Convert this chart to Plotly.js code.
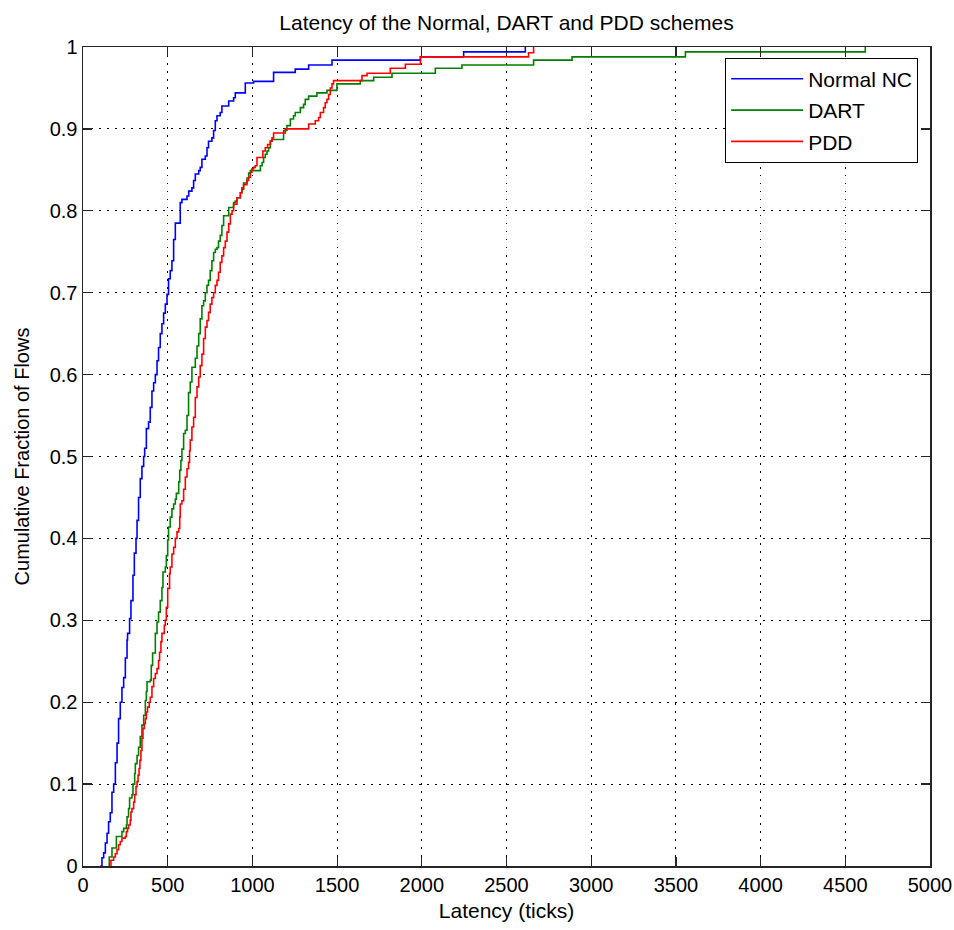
<!DOCTYPE html>
<html>
<head>
<meta charset="utf-8">
<script src="https://cdn.plot.ly/plotly-3.0.1.min.js"></script>
<style>html,body{margin:0;padding:0;background:#fff;}#chart{width:954px;height:930px;}</style>
</head>
<body>
<div id="chart"></div>
<script>
// Normal NC (blue) step CDF: latency (ticks) where each step occurs, fraction after step
const normalX = [102,112,122,132,142,151,161,171,181,191,201,210,220,230,240,250,260,263,275,283,295,303,313,319,328,338,348,358,364,374,387,397,407,417,427,437,446,456,466,476,486,496,505,515,525,535,545,574,584,614,624,643,653,663,683,692,702,722,732,741,761,771,781,791,810,820,860,889,899,958,1007,1125,1253,1332,1470,1992,2247,2611];
const normalY = [0,0.01,0.016,0.028,0.04,0.054,0.065,0.09,0.10,0.126,0.15,0.18,0.20,0.218,0.23,0.254,0.276,0.284,0.302,0.324,0.355,0.382,0.40,0.422,0.45,0.473,0.488,0.50,0.51,0.534,0.542,0.56,0.58,0.59,0.60,0.617,0.633,0.65,0.662,0.675,0.686,0.698,0.717,0.727,0.739,0.765,0.785,0.81,0.814,0.818,0.824,0.828,0.837,0.845,0.849,0.853,0.863,0.867,0.877,0.885,0.889,0.898,0.91,0.916,0.92,0.928,0.934,0.938,0.944,0.956,0.958,0.969,0.973,0.978,0.984,0.988,0.994,1.0];

// DART (green)
const dartX = [155,155,171,197,230,240,256,260,269,275,289,295,305,309,319,328,338,348,358,368,374,378,397,403,411,427,437,446,456,466,472,486,492,500,505,515,525,535,545,551,565,571,578,584,594,604,614,623,633,643,663,673,683,692,702,712,722,732,741,751,761,771,781,791,800,810,820,830,860,889,899,909,929,938,948,968,978,988,1047,1057,1066,1076,1086,1096,1106,1116,1184,1204,1224,1243,1253,1283,1302,1312,1332,1381,1440,1499,1637,1716,1824,2080,2237,2660,2887,3556,4618];
const dartY = [0,0.011,0.022,0.036,0.042,0.046,0.05,0.06,0.07,0.083,0.087,0.10,0.113,0.125,0.135,0.145,0.158,0.172,0.184,0.202,0.213,0.225,0.227,0.245,0.26,0.284,0.298,0.31,0.324,0.34,0.359,0.365,0.379,0.398,0.414,0.426,0.436,0.442,0.448,0.455,0.469,0.483,0.495,0.509,0.528,0.532,0.55,0.578,0.591,0.609,0.62,0.635,0.65,0.668,0.684,0.69,0.70,0.709,0.715,0.727,0.739,0.749,0.753,0.755,0.763,0.77,0.782,0.794,0.804,0.81,0.812,0.816,0.822,0.826,0.834,0.84,0.846,0.849,0.855,0.859,0.865,0.869,0.873,0.877,0.885,0.887,0.898,0.904,0.912,0.916,0.92,0.926,0.93,0.936,0.94,0.944,0.947,0.955,0.959,0.963,0.968,0.974,0.978,0.984,0.988,0.994,1.0];

// PDD (red)
const pddX = [161,165,181,191,201,210,220,230,250,256,263,269,279,283,289,299,305,313,319,325,331,336,342,348,354,362,368,374,381,391,397,407,417,427,437,446,452,460,466,480,486,492,500,511,515,525,535,545,555,565,571,574,584,594,604,614,623,629,633,643,653,663,673,683,692,702,712,722,732,741,751,761,771,781,791,800,810,820,830,840,850,860,870,880,889,909,929,938,948,968,978,988,997,1007,1017,1027,1062,1076,1090,1106,1116,1125,1194,1332,1371,1391,1401,1420,1430,1440,1450,1460,1470,1479,1647,1677,1814,1903,1992,2630,2660];
const pddY = [0,0.007,0.011,0.015,0.02,0.026,0.03,0.034,0.036,0.042,0.046,0.05,0.056,0.066,0.07,0.078,0.087,0.097,0.103,0.111,0.119,0.129,0.141,0.156,0.168,0.174,0.18,0.188,0.194,0.20,0.206,0.219,0.229,0.235,0.241,0.251,0.261,0.274,0.284,0.294,0.30,0.316,0.339,0.357,0.365,0.381,0.389,0.40,0.408,0.412,0.426,0.442,0.446,0.46,0.475,0.485,0.493,0.507,0.52,0.536,0.548,0.572,0.585,0.597,0.611,0.625,0.644,0.658,0.666,0.676,0.686,0.694,0.70,0.709,0.715,0.725,0.737,0.745,0.755,0.763,0.774,0.784,0.796,0.80,0.808,0.816,0.822,0.828,0.832,0.837,0.841,0.847,0.851,0.853,0.855,0.865,0.873,0.877,0.881,0.885,0.889,0.895,0.90,0.906,0.91,0.914,0.92,0.926,0.932,0.936,0.942,0.95,0.955,0.959,0.965,0.968,0.974,0.979,0.988,0.993,1.0];

const seriesNames = ['Normal NC', 'DART', 'PDD'];
const xTickVals = [0,500,1000,1500,2000,2500,3000,3500,4000,4500,5000];
const yTickVals = [0,0.1,0.2,0.3,0.4,0.5,0.6,0.7,0.8,0.9,1];
const yTickText = ['0','0.1','0.2','0.3','0.4','0.5','0.6','0.7','0.8','0.9','1'];

const font = 'Liberation Sans, Arial, Helvetica, sans-serif';
const mk = (x, y, name, color, g) => ({
  x: x, y: y, name: name, type: 'scatter', mode: 'lines',
  line: {color: color, width: 1.6, shape: 'hv'}, legendgroup: g
});

const data = [
  mk(normalX, normalY, seriesNames[0], '#0000ff', 'a'),
  mk(dartX, dartY, seriesNames[1], '#008000', 'b'),
  mk(pddX, pddY, seriesNames[2], '#ff0000', 'c')
];

const axisCommon = {
  showline: true, linecolor: '#262626', linewidth: 1.5, mirror: 'ticks',
  ticks: 'inside', ticklen: 9, tickcolor: '#262626', tickwidth: 1.2,
  showgrid: true, gridcolor: '#000000', gridwidth: 1, griddash: '1.5px,6.5px',
  zeroline: false, tickfont: {family: font, size: 20, color: '#000'}
};

const layout = {
  width: 954, height: 930,
  margin: {l: 83, r: 24, t: 47, b: 64},
  paper_bgcolor: '#fff', plot_bgcolor: '#fff',
  font: {family: font, size: 20, color: '#000'},
  title: {text: 'Latency of the Normal, DART and PDD schemes', font: {family: font, size: 21, color: '#000'},
          x: 0.5, xref: 'paper', y: 1 - 23/930, yref: 'container', yanchor: 'middle'},
  xaxis: Object.assign({}, axisCommon, {
    range: [0, 5000], tickvals: xTickVals, ticktext: xTickVals.map(String),
    title: {text: 'Latency (ticks)', font: {family: font, size: 21, color: '#000'}, standoff: 9}
  }),
  yaxis: Object.assign({}, axisCommon, {
    range: [0, 1], tickvals: yTickVals, ticktext: yTickText,
    title: {text: 'Cumulative Fraction of Flows', font: {family: font, size: 20, color: '#000'}, standoff: 14}
  }),
  showlegend: true,
  legend: {
    x: 0.986, xanchor: 'right', y: 0.987, yanchor: 'top',
    bgcolor: '#fff', bordercolor: '#000', borderwidth: 1,
    font: {family: font, size: 21, color: '#000'},
    traceorder: 'grouped', tracegroupgap: 1, itemwidth: 72
  }
};

Plotly.newPlot('chart', data, layout, {displayModeBar: false, staticPlot: true});
</script>
</body>
</html>
